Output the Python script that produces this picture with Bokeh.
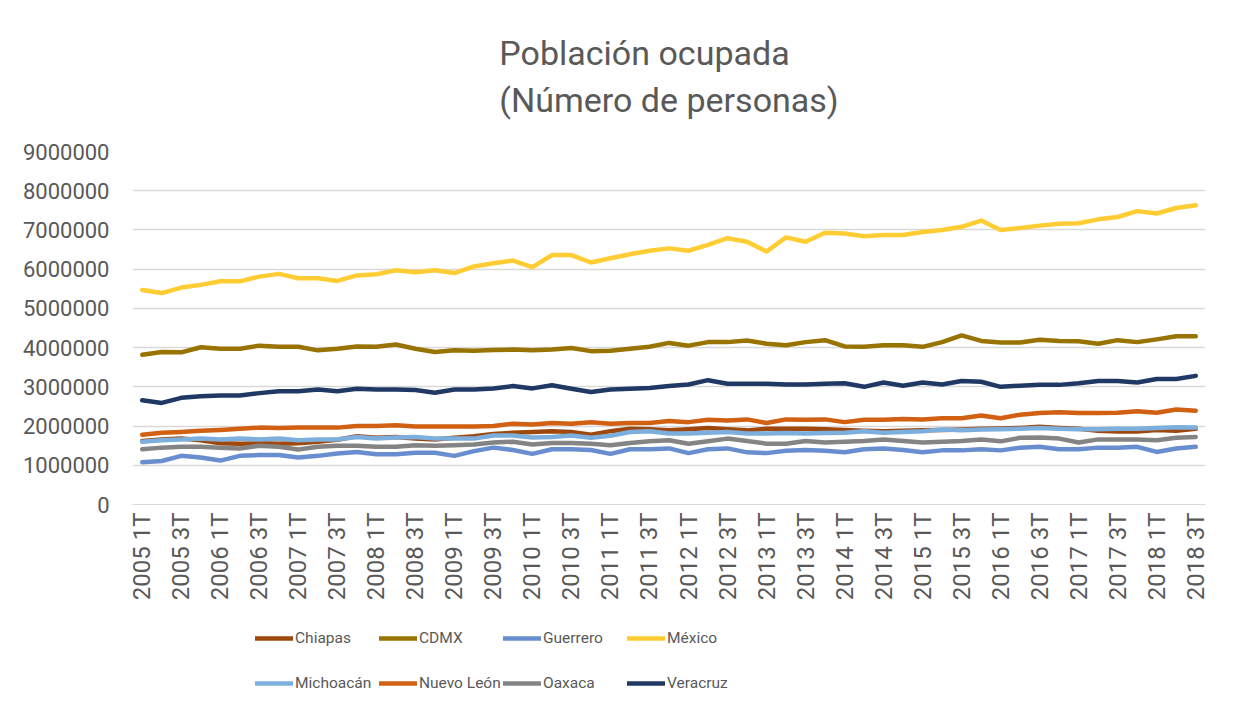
import math
from bokeh.plotting import figure
from bokeh.layouts import column
from bokeh.models import (Range1d, FixedTicker, NumeralTickFormatter, Legend,
                          LegendItem, Title)
from bokeh.embed import file_html
from bokeh.resources import INLINE

quarters = [
    "2005 1T", "2005 2T", "2005 3T", "2005 4T", "2006 1T", "2006 2T", "2006 3T", "2006 4T",
    "2007 1T", "2007 2T", "2007 3T", "2007 4T", "2008 1T", "2008 2T", "2008 3T", "2008 4T",
    "2009 1T", "2009 2T", "2009 3T", "2009 4T", "2010 1T", "2010 2T", "2010 3T", "2010 4T",
    "2011 1T", "2011 2T", "2011 3T", "2011 4T", "2012 1T", "2012 2T", "2012 3T", "2012 4T",
    "2013 1T", "2013 2T", "2013 3T", "2013 4T", "2014 1T", "2014 2T", "2014 3T", "2014 4T",
    "2015 1T", "2015 2T", "2015 3T", "2015 4T", "2016 1T", "2016 2T", "2016 3T", "2016 4T",
    "2017 1T", "2017 2T", "2017 3T", "2017 4T", "2018 1T", "2018 2T", "2018 3T",
]

chiapas = [1620000, 1660000, 1680000, 1640000, 1560000, 1550000, 1560000, 1550000, 1560000, 1600000,
           1650000, 1740000, 1700000, 1720000, 1680000, 1660000, 1700000, 1740000, 1800000,
           1830000, 1850000, 1870000, 1850000, 1780000, 1870000, 1930000, 1920000, 1890000, 1920000,
           1950000, 1920000, 1890000, 1930000, 1930000, 1930000, 1920000, 1900000,
           1880000, 1870000, 1880000, 1890000, 1900000, 1910000, 1930000, 1940000, 1950000, 1980000,
           1950000, 1930000, 1880000, 1860000, 1860000, 1900000, 1880000, 1930000]
cdmx = [3820000, 3890000, 3880000, 4010000, 3970000, 3970000, 4050000, 4020000, 4020000, 3930000,
        3970000, 4030000, 4020000, 4080000, 3970000, 3890000, 3930000, 3920000, 3940000,
        3950000, 3930000, 3950000, 3990000, 3910000, 3920000, 3970000, 4020000, 4120000, 4050000,
        4140000, 4140000, 4180000, 4100000, 4060000, 4140000, 4190000, 4030000,
        4020000, 4060000, 4060000, 4020000, 4140000, 4310000, 4170000, 4130000, 4130000, 4200000,
        4170000, 4160000, 4100000, 4190000, 4140000, 4210000, 4290000, 4290000]
guerrero = [1080000, 1110000, 1240000, 1200000, 1120000, 1240000, 1260000, 1260000, 1200000, 1240000,
            1300000, 1340000, 1280000, 1280000, 1320000, 1320000, 1240000, 1360000, 1450000,
            1390000, 1290000, 1410000, 1410000, 1390000, 1290000, 1410000, 1410000, 1430000, 1310000,
            1410000, 1430000, 1330000, 1310000, 1370000, 1390000, 1370000, 1330000,
            1410000, 1430000, 1390000, 1330000, 1380000, 1380000, 1410000, 1380000, 1450000, 1470000,
            1410000, 1410000, 1450000, 1450000, 1470000, 1340000, 1430000, 1470000]
mexico = [5470000, 5390000, 5530000, 5600000, 5690000, 5690000, 5810000, 5880000, 5770000, 5770000,
          5700000, 5840000, 5870000, 5970000, 5920000, 5970000, 5900000, 6070000, 6150000,
          6220000, 6050000, 6360000, 6360000, 6170000, 6280000, 6380000, 6470000, 6530000, 6470000,
          6620000, 6790000, 6700000, 6450000, 6810000, 6700000, 6930000, 6910000,
          6840000, 6870000, 6870000, 6950000, 7000000, 7080000, 7240000, 7000000, 7050000, 7110000,
          7160000, 7170000, 7270000, 7330000, 7480000, 7420000, 7560000, 7630000]
michoacan = [1600000, 1640000, 1660000, 1680000, 1660000, 1680000, 1660000, 1680000, 1640000, 1660000,
             1660000, 1720000, 1680000, 1710000, 1720000, 1680000, 1680000, 1680000, 1760000,
             1760000, 1710000, 1720000, 1760000, 1700000, 1750000, 1850000, 1870000, 1810000, 1810000,
             1830000, 1850000, 1810000, 1810000, 1820000, 1810000, 1820000, 1830000,
             1870000, 1830000, 1850000, 1870000, 1910000, 1890000, 1910000, 1920000, 1930000, 1950000,
             1930000, 1920000, 1920000, 1930000, 1930000, 1950000, 1970000, 1960000]
nuevo_leon = [1780000, 1830000, 1850000, 1880000, 1900000, 1930000, 1960000, 1950000, 1960000, 1960000,
              1960000, 2000000, 2000000, 2020000, 1990000, 1990000, 1990000, 1990000, 2000000,
              2060000, 2040000, 2080000, 2060000, 2100000, 2060000, 2080000, 2080000, 2130000, 2100000,
              2160000, 2140000, 2170000, 2080000, 2170000, 2160000, 2170000, 2100000,
              2160000, 2160000, 2180000, 2170000, 2200000, 2200000, 2270000, 2200000, 2290000, 2330000,
              2350000, 2330000, 2330000, 2340000, 2380000, 2340000, 2420000, 2390000]
oaxaca = [1410000, 1450000, 1470000, 1470000, 1450000, 1430000, 1500000, 1470000, 1400000, 1470000,
          1500000, 1500000, 1470000, 1470000, 1510000, 1500000, 1510000, 1530000, 1580000,
          1600000, 1530000, 1570000, 1570000, 1550000, 1510000, 1570000, 1610000, 1640000, 1550000,
          1610000, 1680000, 1620000, 1550000, 1550000, 1620000, 1580000, 1600000,
          1620000, 1660000, 1620000, 1580000, 1600000, 1620000, 1660000, 1610000, 1700000, 1710000,
          1680000, 1580000, 1660000, 1660000, 1660000, 1640000, 1700000, 1720000]
veracruz = [2660000, 2590000, 2720000, 2760000, 2780000, 2780000, 2840000, 2890000, 2890000, 2930000,
            2890000, 2950000, 2930000, 2930000, 2920000, 2850000, 2930000, 2930000, 2960000,
            3020000, 2960000, 3040000, 2950000, 2870000, 2930000, 2950000, 2970000, 3020000, 3060000,
            3170000, 3080000, 3080000, 3080000, 3060000, 3060000, 3080000, 3090000,
            3000000, 3110000, 3030000, 3110000, 3060000, 3150000, 3130000, 3000000, 3030000, 3050000,
            3050000, 3090000, 3150000, 3150000, 3110000, 3200000, 3200000, 3280000]

series_names = ["Chiapas", "CDMX", "Guerrero", "México", "Michoacán", "Nuevo León", "Oaxaca", "Veracruz"]
series_values = [chiapas, cdmx, guerrero, mexico, michoacan, nuevo_leon, oaxaca, veracruz]
series_colors = ["#9E480E", "#997300", "#698ED0", "#FFCD33", "#7CAFDD", "#D26012", "#848484", "#203864"]

y_ticks = [0, 1000000, 2000000, 3000000, 4000000, 5000000, 6000000, 7000000, 8000000, 9000000]
x_label_idx = list(range(0, len(quarters), 2))

TXT = "#595959"
FONT = "Roboto"
W = 1217
H_MAIN = 610
H_LEG = 89

p = figure(width=W, height=H_MAIN, output_backend="svg", toolbar_location=None,
           x_range=Range1d(-0.5, len(quarters) - 0.5), y_range=Range1d(0, 9000000),
           title_location=None,
           min_border_left=132, min_border_right=12, min_border_top=150,
           min_border_bottom=H_MAIN - 504)
p.outline_line_color = None
p.background_fill_color = "white"
p.border_fill_color = "white"

p.add_layout(Title(text="Población ocupada\n(Número de personas)", align="center",
                   text_font=FONT, text_font_size="34px", text_font_style="normal",
                   text_color=TXT, text_line_height=1.18, standoff=62), "above")

x = list(range(len(quarters)))
renderers = []
for name, vals, col in zip(series_names, series_values, series_colors):
    r = p.line(x, vals, line_color=col, line_width=4.5, line_cap="round", line_join="round")
    renderers.append(r)

# axes
p.xaxis.ticker = FixedTicker(ticks=x_label_idx)
p.xaxis.major_label_overrides = {i: quarters[i] for i in x_label_idx}
p.xaxis.major_label_orientation = math.pi / 2
p.xaxis.major_tick_line_color = None
p.xaxis.major_tick_out = 0
p.xaxis.major_tick_in = 0
p.xaxis.minor_tick_line_color = None
p.xaxis.axis_line_color = "#D9D9D9"
p.xaxis.major_label_standoff = 8
p.xaxis.major_label_text_font = FONT
p.xaxis.major_label_text_font_size = "24px"
p.xaxis.major_label_text_color = TXT

p.yaxis.ticker = FixedTicker(ticks=y_ticks)
p.yaxis.formatter = NumeralTickFormatter(format="0")
p.yaxis.axis_line_color = None
p.yaxis.major_tick_line_color = None
p.yaxis.major_tick_out = 0
p.yaxis.major_tick_in = 0
p.yaxis.minor_tick_line_color = None
p.yaxis.major_label_standoff = 23
p.yaxis.major_label_text_font = FONT
p.yaxis.major_label_text_font_size = "22px"
p.yaxis.major_label_text_color = TXT

p.xgrid.visible = False
p.ygrid.ticker = FixedTicker(ticks=y_ticks)
p.ygrid.grid_line_color = "#D9D9D9"
p.ygrid.grid_line_width = 1.3

# legend figure (2 rows x 4 columns) placed under the chart
pl = figure(width=W, height=H_LEG, output_backend="svg", toolbar_location=None,
            x_range=Range1d(0, 1), y_range=Range1d(0, 1), title_location=None,
            x_axis_location=None, y_axis_location=None,
            min_border_left=0, min_border_right=0, min_border_top=0, min_border_bottom=0)
pl.outline_line_color = None
pl.background_fill_color = "white"
pl.border_fill_color = "white"
pl.xgrid.visible = False
pl.ygrid.visible = False

# legend sample renderers: their data lies outside the visible range (never drawn)
leg_renderers = []
for col in series_colors:
    leg_renderers.append(pl.line([5, 6], [5, 5], line_color=col, line_width=4.5, line_cap="round"))

for c in range(4):
    items = [LegendItem(label=series_names[c], renderers=[leg_renderers[c]]),
             LegendItem(label=series_names[c + 4], renderers=[leg_renderers[c + 4]])]
    leg = Legend(items=items, location=(123 + 124 * c, 0), orientation="vertical",
                 glyph_width=38, glyph_height=32, label_height=32, label_standoff=2,
                 spacing=13, padding=0, margin=0,
                 border_line_color=None, background_fill_alpha=0,
                 label_text_font=FONT, label_text_font_size="15.5px", label_text_color=TXT)
    pl.add_layout(leg, "center")

layout = column(p, pl, spacing=0)
open("out.html", "w").write(file_html(layout, INLINE))
